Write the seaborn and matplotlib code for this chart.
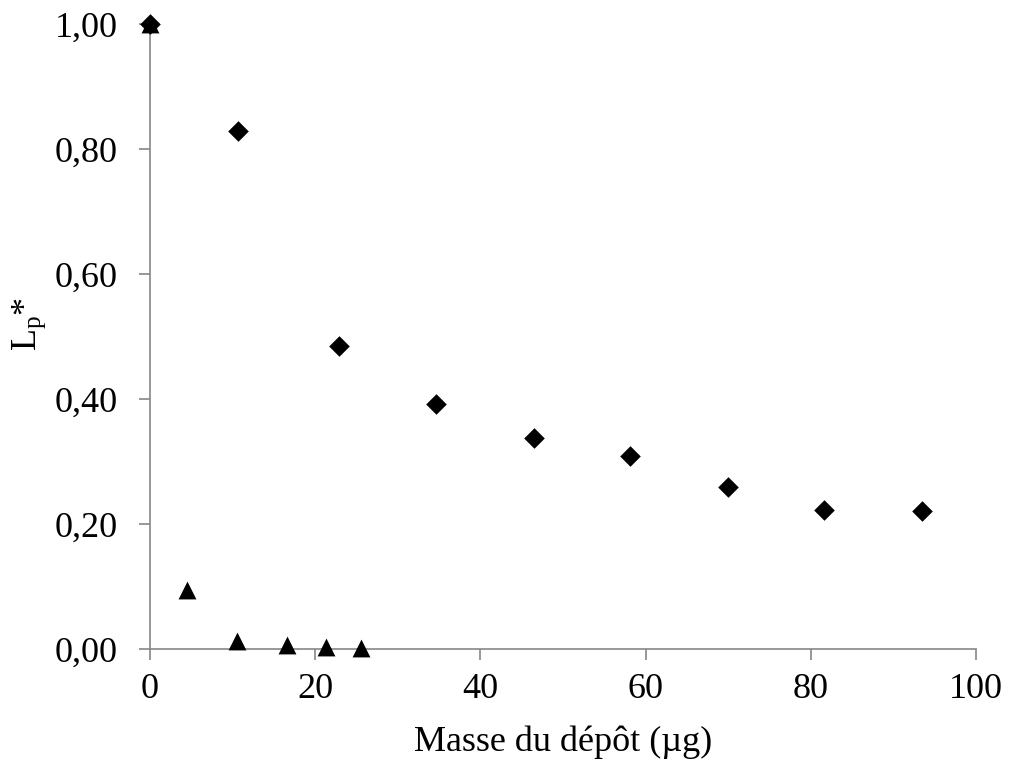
import matplotlib
matplotlib.use("Agg")
import matplotlib.pyplot as plt
from matplotlib.ticker import FuncFormatter
import seaborn as sns
import pandas as pd

# series 1 (losanges)
masse_losange = [0, 10.6, 22.9, 34.6, 46.5, 58.1, 70.0, 81.6, 93.5]
lp_losange = [1.00, 0.829, 0.485, 0.392, 0.338, 0.309, 0.259, 0.222, 0.221]

# series 2 (triangles)
masse_triangle = [0, 4.5, 10.5, 16.6, 21.3, 25.5]
lp_triangle = [1.00, 0.094, 0.013, 0.006, 0.003, 0.001]

x_ticks = [0, 20, 40, 60, 80, 100]
y_ticks = [0, 0.2, 0.4, 0.6, 0.8, 1.0]

sns.set_style("ticks")
plt.rcParams['font.family'] = ['Liberation Serif', 'DejaVu Serif']
plt.rcParams['mathtext.default'] = 'regular'
plt.rcParams['text.color'] = 'black'
plt.rcParams['axes.labelcolor'] = 'black'

df1 = pd.DataFrame({"masse": masse_losange, "lp": lp_losange})
df2 = pd.DataFrame({"masse": masse_triangle, "lp": lp_triangle})

fig = plt.figure(figsize=(10.09, 7.65), dpi=100)
ax = fig.add_axes([0.1487, 0.1516, 0.8186, 0.8170])

sns.scatterplot(data=df1, x="masse", y="lp", marker="D", s=110, color="black",
                edgecolor="black", linewidth=0, ax=ax, zorder=3, clip_on=False)
sns.scatterplot(data=df2, x="masse", y="lp", marker="^", s=165, color="black",
                edgecolor="black", linewidth=0, ax=ax, zorder=3, clip_on=False)

ax.set_xlim(0, 100)
ax.set_ylim(0, 1.0)
ax.set_xticks(x_ticks)
ax.set_yticks(y_ticks)
ax.yaxis.set_major_formatter(FuncFormatter(lambda v, p: f"{v:.2f}".replace(".", ",")))
ax.tick_params(axis="both", labelsize=26, length=8, width=1.2, color="#868686",
               labelcolor="black", direction="out")
ax.tick_params(axis="x", pad=9)
ax.tick_params(axis="y", pad=15)
for side in ["left", "bottom"]:
    ax.spines[side].set_color("#868686")
    ax.spines[side].set_linewidth(1.2)
sns.despine(ax=ax)

ax.set_xlabel("Masse du dépôt (µg)", fontsize=26, color="black")
ax.set_ylabel("L$_p$*", fontsize=26, color="black")
ax.xaxis.set_label_coords(0.5, -0.123)
ax.yaxis.set_label_coords(-0.123, 0.52)

fig.savefig("out.png", dpi=100)
